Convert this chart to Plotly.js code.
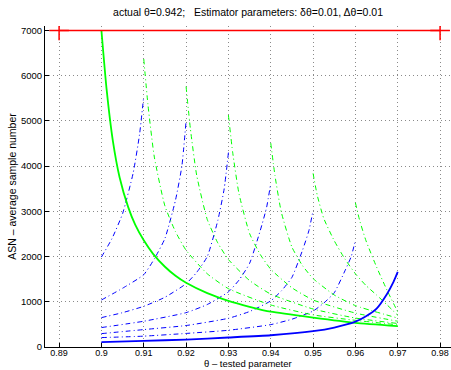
<!DOCTYPE html>
<html><head><meta charset="utf-8">
<script src="https://cdn.plot.ly/plotly-3.0.1.min.js"></script>
<style>html,body{margin:0;padding:0;background:#fff}#chart{width:451px;height:370px}</style>
</head><body><div id="chart"></div>
<script>
// ---- data ----
const xTickVals = [0.89,0.90,0.91,0.92,0.93,0.94,0.95,0.96,0.97,0.98];
const xTickText = ["0.89","0.9","0.91","0.92","0.93","0.94","0.95","0.96","0.97","0.98"];
const yTickVals = [0,1000,2000,3000,4000,5000,6000,7000];

const redX = [0.89, 0.98];
const redY = [7000, 7000];

const greenSolidX = [0.9,0.9012,0.9027,0.9043,0.9063,0.908,0.91,0.9122,0.915,0.9175,0.92,0.925,0.93,0.935,0.94,0.95,0.96,0.97];
const greenSolidY = [7000,5720,4560,3750,3100,2700,2360,2060,1775,1575,1420,1190,1020,890,780,650,535,462];

const blueSolidX = [0.9,0.91,0.92,0.93,0.94,0.95,0.955,0.96,0.9625,0.965,0.9675,0.969,0.97];
const blueSolidY = [110,135,165,210,260,350,430,560,680,850,1180,1440,1660];

const green1X = [0.91,0.911,0.9125,0.915,0.9175,0.92,0.925,0.93,0.94,0.95,0.96,0.97];
const green1Y = [6370,5350,4200,3120,2550,2140,1620,1290,930,710,590,490];
const green2X = [0.92,0.921,0.9225,0.925,0.9275,0.93,0.935,0.94,0.95,0.96,0.97];
const green2Y = [5760,4840,3800,2820,2300,1935,1470,1170,840,640,520];
const green3X = [0.93,0.931,0.9325,0.935,0.9375,0.94,0.945,0.95,0.96,0.97];
const green3Y = [5130,4310,3390,2510,2050,1720,1310,1040,750,570];
const green4X = [0.94,0.941,0.9425,0.945,0.9475,0.95,0.955,0.96,0.97];
const green4Y = [4510,3790,2980,2210,1800,1515,1150,915,640];
const green5X = [0.95,0.951,0.9525,0.955,0.9575,0.96,0.9625,0.965,0.9675,0.97];
const green5Y = [3840,3350,2850,2350,1950,1620,1360,1150,930,700];
const green6X = [0.96,0.961,0.9625,0.965,0.9675,0.97];
const green6Y = [3190,2800,2350,1770,1250,775];

const blue1X = [0.9,0.9025,0.905,0.9075,0.909,0.91];
const blue1Y = [1990,2400,2950,3850,4700,5550];
const blue2X = [0.9,0.905,0.91,0.9125,0.915,0.9175,0.919,0.92];
const blue2Y = [1040,1300,1600,1950,2400,3250,4000,5000];
const blue3X = [0.9,0.905,0.91,0.915,0.92,0.9225,0.925,0.9275,0.929,0.93];
const blue3Y = [650,760,900,1100,1400,1650,2000,2800,3500,4300];
const blue4X = [0.9,0.91,0.92,0.925,0.93,0.9325,0.935,0.9375,0.939,0.94];
const blue4Y = [430,570,760,940,1220,1480,1850,2570,3080,3620];
const blue5X = [0.9,0.91,0.92,0.93,0.935,0.94,0.9425,0.945,0.9475,0.949,0.95];
const blue5Y = [296,385,475,635,785,1020,1240,1540,2140,2570,3020];
const blue6X = [0.9,0.91,0.92,0.93,0.94,0.945,0.95,0.9525,0.955,0.9575,0.959,0.96];
const blue6Y = [208,240,300,370,495,615,795,970,1200,1680,2000,2360];

// ---- traces ----
const GREEN = '#00ff00', BLUE = '#0000ff', RED = '#ff0000';
const DASHDOT = '5px,3px,1px,3px';
const dashed = (x, y, c) => ({x, y, type:'scatter', mode:'lines',
  line:{color:c, width:1, dash:DASHDOT, shape:'spline', smoothing:0.5}, hoverinfo:'skip'});

const traces = [
  dashed(blue1X, blue1Y, BLUE), dashed(blue2X, blue2Y, BLUE), dashed(blue3X, blue3Y, BLUE),
  dashed(blue4X, blue4Y, BLUE), dashed(blue5X, blue5Y, BLUE), dashed(blue6X, blue6Y, BLUE),
  dashed(green1X, green1Y, GREEN), dashed(green2X, green2Y, GREEN), dashed(green3X, green3Y, GREEN),
  dashed(green4X, green4Y, GREEN), dashed(green5X, green5Y, GREEN), dashed(green6X, green6Y, GREEN),
  {x:greenSolidX, y:greenSolidY, type:'scatter', mode:'lines', line:{color:GREEN, width:1.8, shape:'spline', smoothing:0.5}},
  {x:blueSolidX, y:blueSolidY, type:'scatter', mode:'lines', line:{color:BLUE, width:1.8, shape:'spline', smoothing:0.5}},
  {x:redX, y:redY, type:'scatter', mode:'lines+markers', line:{color:RED, width:1.5},
   marker:{symbol:'cross-thin', size:14, line:{color:RED, width:1.5}}}
];

const GRID = '#8a8a8a';
const layout = {
  width:451, height:370,
  margin:{l:45, r:0, t:26, b:23},
  paper_bgcolor:'#fff', plot_bgcolor:'#fff',
  showlegend:false,
  font:{family:'Liberation Sans, Arial, sans-serif', size:10, color:'#000'},
  title:{text:'actual θ=0.942;   Estimator parameters: δθ=0.01, Δθ=0.01',
         font:{size:10.5, color:'#000'}, x:0.55, xanchor:'center', y:0.968, yanchor:'middle'},
  xaxis:{range:[0.88667, 0.98258], tickvals:xTickVals, ticktext:xTickText,
         showgrid:true, gridcolor:GRID, griddash:'1px,3px', gridwidth:1,
         zeroline:false, showline:true, linecolor:'#000', linewidth:1,
         ticks:'inside', ticklen:4, tickcolor:'#000', tickfont:{size:9}, ticklabelstandoff:-3},
  yaxis:{range:[0, 7100], tickvals:yTickVals,
         showgrid:true, gridcolor:GRID, griddash:'1px,3px', gridwidth:1,
         zeroline:false, showline:true, linecolor:'#000', linewidth:1,
         ticks:'inside', ticklen:4, tickcolor:'#000', tickfont:{size:9.5},
         title:{text:'ASN – average sample number', font:{size:10.5}, standoff:2}},
  annotations:[{text:'θ – tested parameter', xref:'paper', yref:'paper', x:0.5, y:-0.0725,
                xanchor:'center', yanchor:'bottom', borderpad:0, showarrow:false, font:{size:9.5}}]
};
Plotly.newPlot('chart', traces, layout, {staticPlot:true, displayModeBar:false});
</script></body></html>
